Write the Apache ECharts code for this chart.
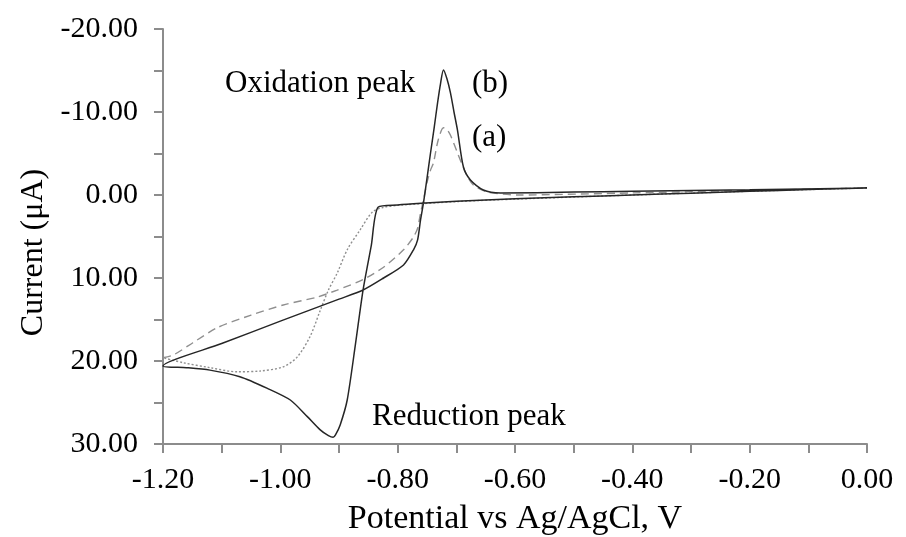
<!DOCTYPE html>
<html>
<head>
<meta charset="utf-8">
<title>Cyclic voltammogram</title>
<script src="https://cdn.jsdelivr.net/npm/echarts@6/dist/echarts.min.js"></script>
<style>
  html, body { margin: 0; padding: 0; background: #fff; }
  #chart { width: 906px; height: 537px; }
</style>
</head>
<body>
<div id="chart"></div>
<script>
// Axis ticks
const potentialTicks = [-1.2, -1.0, -0.8, -0.6, -0.4, -0.2, 0.0];
const currentTicks = [-20, -10, 0, 10, 20, 30];

// Curve (b): cathodic sweep 0 V -> -1.2 V
const bForwardV = [0, -0.1, -0.2, -0.3, -0.4, -0.5, -0.6, -0.7, -0.76, -0.8, -0.833, -0.845, -0.859, -0.872, -0.886, -0.898, -0.906, -0.91, -0.918, -0.932, -0.954, -0.983, -1.022, -1.069, -1.12, -1.16, -1.2];
const bForwardI = [-0.85, -0.65, -0.45, -0.22, 0.0, 0.22, 0.45, 0.75, 1.0, 1.2, 1.45, 6.1, 11.45, 18.0, 24.7, 27.7, 28.9, 29.2, 29.0, 28.3, 26.7, 24.7, 23.3, 21.9, 21.1, 20.8, 20.6];
// Curve (b): anodic sweep -1.2 V -> 0 V
const bReverseV = [-1.2, -1.1, -1.0, -0.9, -0.859, -0.824, -0.79, -0.773, -0.766, -0.761, -0.756, -0.75, -0.744, -0.738, -0.732, -0.727, -0.722, -0.716, -0.71, -0.704, -0.698, -0.688, -0.676, -0.654, -0.625, -0.5, -0.4, -0.2, 0];
const bReverseI = [20.6, 17.9, 15.2, 12.55, 11.45, 10.0, 8.43, 6.6, 5.4, 3.0, 0.96, -2.0, -5.06, -8.0, -11.1, -13.4, -15.06, -14.0, -12.3, -10.0, -7.8, -3.4, -1.8, -0.6, -0.24, -0.35, -0.45, -0.62, -0.85];

// Curve (a): cathodic sweep 0 V -> -1.2 V
const aForwardV = [0, -0.2, -0.4, -0.6, -0.7, -0.8, -0.825, -0.843, -0.864, -0.886, -0.903, -0.918, -0.932, -0.949, -0.971, -0.995, -1.034, -1.074, -1.12, -1.166, -1.2];
const aForwardI = [-0.85, -0.45, 0.0, 0.5, 0.8, 1.25, 1.5, 2.05, 4.2, 6.6, 9.4, 11.45, 13.9, 17.0, 19.5, 20.7, 21.2, 21.3, 20.8, 20.2, 19.6];
// Curve (a): anodic sweep -1.2 V -> 0 V
const aReverseV = [-1.2, -1.183, -1.149, -1.108, -1.051, -0.995, -0.937, -0.903, -0.859, -0.824, -0.79, -0.773, -0.766, -0.761, -0.756, -0.75, -0.744, -0.739, -0.731, -0.722, -0.716, -0.71, -0.698, -0.684, -0.671, -0.647, -0.596, -0.4, -0.2, 0];
const aReverseI = [19.6, 19.3, 17.8, 16.0, 14.5, 13.25, 12.3, 11.45, 10.2, 8.7, 6.6, 5.06, 4.0, 2.17, 0.6, -1.5, -3.0, -3.86, -6.6, -8.1, -7.9, -7.2, -5.06, -2.65, -1.2, -0.36, 0.0, -0.25, -0.55, -0.85];

function pairs(xs, ys) {
  return xs.map((x, i) => [x, ys[i]]);
}

const serif = 'Liberation Serif';
const axisGray = '#8c8c8c';

const chart = echarts.init(document.getElementById('chart'), null, { renderer: 'canvas' });

chart.setOption({
  animation: false,
  backgroundColor: '#ffffff',
  grid: { left: 163, right: 39, top: 29, bottom: 93, containLabel: false, outerBoundsMode: 'none' },
  xAxis: {
    type: 'value',
    min: potentialTicks[0],
    max: potentialTicks[potentialTicks.length - 1],
    interval: 0.2,
    name: 'Potential vs Ag/AgCl, V',
    nameLocation: 'middle',
    nameGap: 58,
    nameTextStyle: { fontFamily: serif, fontSize: 34, color: '#000' },
    axisLine: { onZero: false, lineStyle: { color: axisGray, width: 2 } },
    axisTick: { show: true, length: 9, lineStyle: { color: axisGray, width: 2 } },
    minorTick: { show: true, splitNumber: 2, length: 9, lineStyle: { color: axisGray, width: 2 } },
    splitLine: { show: false },
    axisLabel: {
      fontFamily: serif, fontSize: 30, color: '#000', margin: 21,
      formatter: v => v.toFixed(2)
    }
  },
  yAxis: {
    type: 'value',
    inverse: true,
    min: currentTicks[0],
    max: currentTicks[currentTicks.length - 1],
    interval: 10,
    name: 'Current (\u03bcA)',
    nameLocation: 'middle',
    nameRotate: 90,
    nameGap: 112,
    nameTextStyle: { fontFamily: serif, fontSize: 32, color: '#000', padding: [0, 32, 0, 0] },
    axisLine: { onZero: false, lineStyle: { color: axisGray, width: 2 } },
    axisTick: { show: true, length: 9, lineStyle: { color: axisGray, width: 2 } },
    minorTick: { show: true, splitNumber: 2, length: 9, lineStyle: { color: axisGray, width: 2 } },
    splitLine: { show: false },
    axisLabel: {
      fontFamily: serif, fontSize: 30, color: '#000', margin: 25,
      formatter: v => v.toFixed(2)
    }
  },
  series: [
    {
      name: '(a) cathodic',
      type: 'line',
      data: pairs(aForwardV, aForwardI),
      showSymbol: false,
      smooth: 0.3,
      lineStyle: { color: '#8f8f8f', width: 1.4, type: [2, 2] }
    },
    {
      name: '(a) anodic',
      type: 'line',
      data: pairs(aReverseV, aReverseI),
      showSymbol: false,
      smooth: 0.25,
      lineStyle: { color: '#8f8f8f', width: 1.4, type: [8, 5] }
    },
    {
      name: '(b)',
      type: 'line',
      data: pairs(bForwardV.concat(bReverseV.slice(1)), bForwardI.concat(bReverseI.slice(1))),
      showSymbol: false,
      smooth: 0.25,
      lineStyle: { color: '#262626', width: 1.5 }
    }
  ],
  graphic: [
    { type: 'text', left: 225, top: 68, style: { text: 'Oxidation peak', font: '31px "Liberation Serif"', fill: '#000' } },
    { type: 'text', left: 472, top: 68, style: { text: '(b)', font: '31px "Liberation Serif"', fill: '#000' } },
    { type: 'text', left: 472, top: 122, style: { text: '(a)', font: '31px "Liberation Serif"', fill: '#000' } },
    { type: 'text', left: 372, top: 401, style: { text: 'Reduction peak', font: '31px "Liberation Serif"', fill: '#000' } }
  ]
});
</script>
</body>
</html>
